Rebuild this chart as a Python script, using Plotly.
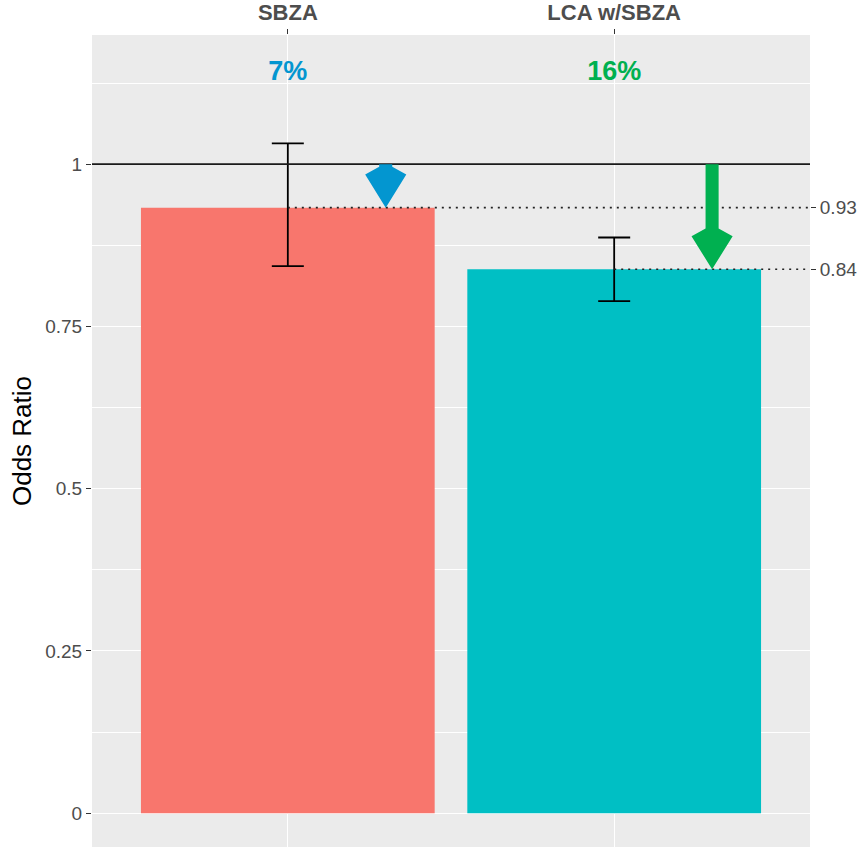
import plotly.graph_objects as go

# ---- data ----
categories = ["SBZA", "LCA w/SBZA"]
odds_ratio = [0.933, 0.838]
ci_lower = [0.843, 0.789]
ci_upper = [1.032, 0.887]
value_labels = ["0.93", "0.84"]
reduction_labels = ["7%", "16%"]
reference_value = 1.0
label_height = 1.14
arrow_offset = 0.3

bar_colors = ["#F8766D", "#00BFC4"]
accent_colors = ["#0396D0", "#00B050"]

x_pos = [i + 1 for i in range(len(categories))]
x_range = [0.4, 2.6]
y_range = [-0.052, 1.199]

fig = go.Figure()

# bars with error bars
fig.add_trace(go.Bar(
    x=x_pos, y=odds_ratio, width=0.9,
    marker=dict(color=bar_colors, line=dict(width=0)),
    error_y=dict(type="data", symmetric=False,
                 array=[u - v for u, v in zip(ci_upper, odds_ratio)],
                 arrayminus=[v - l for v, l in zip(odds_ratio, ci_lower)],
                 color="black", thickness=1.8, width=16),
    showlegend=False, hoverinfo="skip",
))

# dotted lines from bar centre to right edge (on secondary axis)
for xp, v in zip(x_pos, odds_ratio):
    fig.add_trace(go.Scatter(
        x=[xp, x_range[1]], y=[v, v], mode="lines", yaxis="y2",
        line=dict(color="#222222", width=1.6, dash="2px,5px"),
        showlegend=False, hoverinfo="skip",
    ))

# percentage labels
fig.add_trace(go.Scatter(
    x=x_pos, y=[label_height] * len(x_pos), mode="text",
    text=reduction_labels, textposition="middle center",
    textfont=dict(size=27, color=accent_colors, family="Liberation Sans, Arial", weight="bold"),
    showlegend=False, hoverinfo="skip",
))

# reference line at 1
fig.add_shape(type="line", xref="x", yref="y", x0=x_range[0], x1=x_range[1],
              y0=reference_value, y1=reference_value,
              line=dict(color="#1a1a1a", width=1.6), layer="above")

# arrows from reference down to each odds ratio
sw, hw, bh, jh = 0.02, 0.063, 0.051, 0.063
for xp, v, c in zip(x_pos, odds_ratio, accent_colors):
    ax = xp + arrow_offset
    y0 = reference_value
    path = (f"M {ax - sw},{y0} L {ax + sw},{y0} L {ax + sw},{v + jh} "
            f"L {ax + hw},{v + bh} L {ax},{v} L {ax - hw},{v + bh} "
            f"L {ax - sw},{v + jh} Z")
    fig.add_shape(type="path", xref="x", yref="y", path=path,
                  fillcolor=c, line=dict(width=0), layer="above")

tick_font = dict(family="Liberation Sans, Arial", size=19, color="#4D4D4D")

fig.update_layout(
    width=862, height=847,
    margin=dict(l=92, r=52, t=35, b=0),
    paper_bgcolor="white", plot_bgcolor="#EBEBEB",
    font=dict(family="Liberation Sans, Arial"),
    showlegend=False,
    xaxis=dict(
        range=x_range, side="top", tickvals=x_pos, ticktext=categories,
        tickfont=dict(family="Liberation Sans, Arial", size=22, color="#4D4D4D", weight="bold"),
        ticks="outside", ticklen=5, tickcolor="#333333", tickwidth=1.2,
        showgrid=True, gridcolor="white", gridwidth=1.2,
        zeroline=False, showline=False, fixedrange=True, automargin=False,
    ),
    yaxis=dict(
        range=y_range, tickvals=[0, 0.25, 0.5, 0.75, 1],
        ticktext=["0", "0.25", "0.5", "0.75", "1"],
        tickfont=tick_font, ticks="outside", ticklen=5, tickcolor="#333333", tickwidth=1.2,
        showgrid=True, gridcolor="white", gridwidth=1.2,
        minor=dict(tickvals=[0.125, 0.375, 0.625, 0.875, 1.125], showgrid=True,
                   gridcolor="white", gridwidth=0.6, ticks=""),
        zeroline=False, showline=False, automargin=False,
        title=dict(text="Odds Ratio", font=dict(family="Liberation Sans, Arial", size=26, color="black"),
                   standoff=6),
    ),
    yaxis2=dict(
        range=y_range, overlaying="y", side="right",
        tickvals=odds_ratio, ticktext=value_labels, tickfont=tick_font,
        ticks="outside", ticklen=5, tickcolor="#333333", tickwidth=1.2,
        showgrid=False, zeroline=False, showline=False, automargin=False,
    ),
)

fig.write_html("out.html", config={"displayModeBar": False},
               post_script="document.body.style.margin='0';document.body.style.overflow='hidden';")
